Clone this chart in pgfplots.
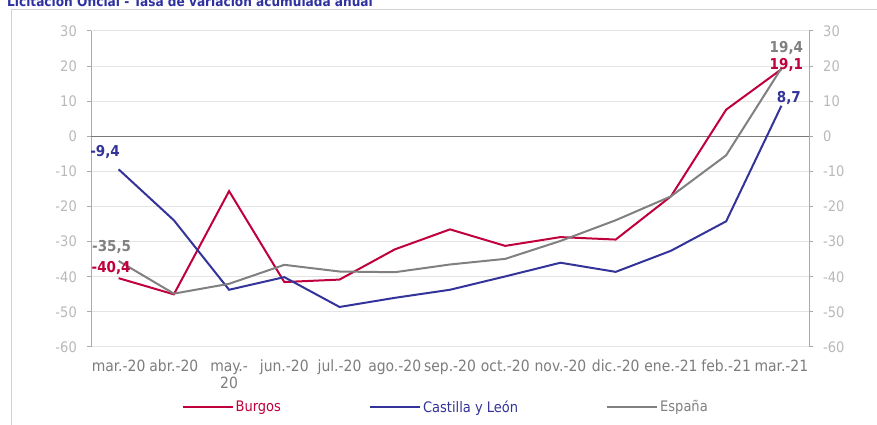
\documentclass[border=0pt]{standalone}
\usepackage{pgfplots}
\pgfplotsset{compat=1.18}
\usepackage{fontspec}
\setmainfont{DejaVu Sans Condensed}
\definecolor{burg}{RGB}{192,0,60}
\definecolor{cyl}{RGB}{51,51,153}
\definecolor{esp}{RGB}{128,128,128}
\definecolor{ttl}{RGB}{46,49,160}
\definecolor{ylab}{RGB}{185,185,185}
\definecolor{xlab}{RGB}{125,125,125}
\definecolor{axc}{RGB}{170,170,170}
\definecolor{gridc}{RGB}{228,228,228}
\definecolor{zeroc}{RGB}{120,120,120}
\definecolor{framec}{RGB}{210,210,210}
\newcommand{\tf}{\fontsize{14.5}{17}\selectfont}
\newcommand{\xf}{\fontsize{15.5}{17}\selectfont}
\begin{document}
\begin{tikzpicture}[x=1pt,y=1pt]
\path[use as bounding box] (0,0) rectangle (877,425);
\clip (0,0) rectangle (877,425);
\fill[white] (0,0) rectangle (877,425);
\draw[framec, line width=1pt] (11.5,0) -- (11.5,415) -- (877,415);
\node[anchor=base west, inner sep=0pt, font=\bfseries\fontsize{13.5}{16}\selectfont, text=ttl] at (7,418.5) {Licitación Oficial - Tasa de variación acumulada anual};

\begin{axis}[
  at={(91pt,78pt)}, anchor=south west, width=718pt, height=316pt, scale only axis,
  xmin=-0.5, xmax=12.5, ymin=-60, ymax=30,
  clip=false,
  axis x line*=bottom, axis y line*=left,
  x axis line style={draw=none},
  y axis line style={axc, line width=1pt, -},
  xtick={0,...,12},
  xticklabels={mar.-20,abr.-20,{may.-\vphantom{0}\\20},jun.-20,jul.-20,ago.-20,sep.-20,oct.-20,nov.-20,dic.-20,ene.-21,feb.-21,mar.-21},
  xticklabel style={font=\xf, text=xlab, align=center, inner sep=0pt, yshift=-9pt},
  xtick style={draw=none},
  ytick={-60,-50,...,30},
  tick align=outside, major tick length=4pt,
  ytick style={axc, line width=1pt},
  yticklabel style={font=\tf, text=ylab, inner sep=0pt, xshift=-10pt},
  /pgf/number format/assume math mode=true,
  ymajorgrids, grid style={gridc, line width=1pt},
  legend style={at={(0.494,-0.19)}, anchor=center, draw=none, fill=none, font=\tf,
    legend columns=3, /tikz/every even column/.append style={column sep=86pt},
    inner sep=0pt, cells={anchor=west}},
  legend image code/.code={\draw[#1, line width=2pt] (0pt,0pt) -- (50pt,0pt);},
]
\draw[zeroc, line width=1pt] (axis cs:-0.5,0) -- (axis cs:12.5,0);
\pgfplotsinvokeforeach{0.5,1.5,2.5,3.5,4.5,5.5,6.5,7.5,8.5,9.5,10.5,11.5}{
  \draw[zeroc, line width=1pt] (axis cs:#1,0) ++(0,-5pt) -- ++(0,10pt);
}
\addplot[burg, line width=2pt] coordinates {
(0,-40.4) (1,-45.0) (2,-15.6) (3,-41.5) (4,-40.8) (5,-32.2) (6,-26.5) (7,-31.2) (8,-28.7) (9,-29.4) (10,-17.1) (11,7.6) (12,19.1)};
\addlegendentry{\textcolor{burg}{Burgos}}
\addplot[cyl, line width=2pt] coordinates {
(0,-9.4) (1,-23.9) (2,-43.7) (3,-40.1) (4,-48.6) (5,-46.0) (6,-43.7) (7,-39.9) (8,-36.0) (9,-38.6) (10,-32.6) (11,-24.2) (12,8.7)};
\addlegendentry{\textcolor{cyl}{Castilla y León}}
\addplot[esp, line width=2pt] coordinates {
(0,-35.5) (1,-44.8) (2,-42.0) (3,-36.6) (4,-38.5) (5,-38.7) (6,-36.5) (7,-34.9) (8,-29.8) (9,-23.9) (10,-17.1) (11,-5.4) (12,19.4)};
\addlegendentry{\textcolor{esp}{España}}
\node[font=\bfseries\fontsize{15}{17}\selectfont, text=cyl, inner sep=0pt, xshift=-13.5pt, yshift=17pt] at (axis cs:0,-9.4) {-9,4};
\node[font=\bfseries\fontsize{15}{17}\selectfont, text=esp, inner sep=0pt, xshift=-7pt, yshift=13.5pt] at (axis cs:0,-35.5) {-35,5};
\node[font=\bfseries\fontsize{15}{17}\selectfont, text=burg, inner sep=0pt, xshift=-7.5pt, yshift=10pt] at (axis cs:0,-40.4) {-40,4};
\node[font=\bfseries\fontsize{15}{17}\selectfont, text=esp, inner sep=0pt, xshift=5pt, yshift=20pt] at (axis cs:12,19.4) {19,4};
\node[font=\bfseries\fontsize{15}{17}\selectfont, text=burg, inner sep=0pt, xshift=5pt, yshift=4pt] at (axis cs:12,19.1) {19,1};
\node[font=\bfseries\fontsize{15}{17}\selectfont, text=cyl, inner sep=0pt, xshift=7.5pt, yshift=7.5pt] at (axis cs:12,8.7) {8,7};
\end{axis}

\begin{axis}[
  at={(91pt,78pt)}, anchor=south west, width=718pt, height=316pt, scale only axis,
  xmin=-0.5, xmax=12.5, ymin=-60, ymax=30,
  axis x line=none, axis y line*=right,
  y axis line style={axc, line width=1pt, -},
  ytick={-60,-50,...,30},
  tick align=outside, major tick length=4pt,
  ytick style={axc, line width=1pt},
  yticklabel style={font=\tf, text=ylab, inner sep=0pt, xshift=10pt},
  /pgf/number format/assume math mode=true,
]
\addplot[draw=none] coordinates {(0,0)};
\end{axis}
\end{tikzpicture}
\end{document}
